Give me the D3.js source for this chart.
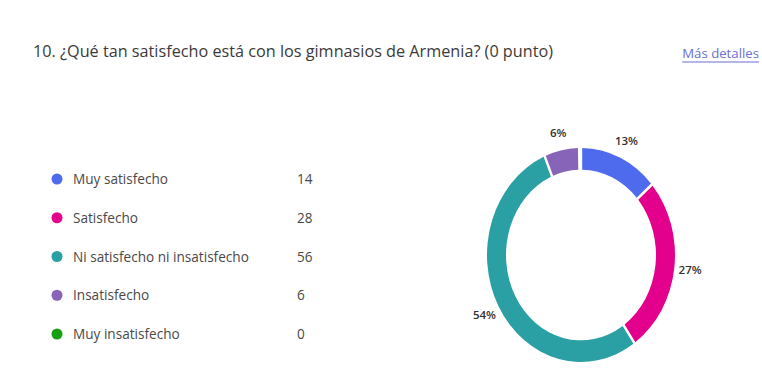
<!DOCTYPE html>
<html>
<head>
<meta charset="utf-8">
<script src="https://cdn.jsdelivr.net/npm/d3@7"></script>
<style>
  html, body { margin: 0; padding: 0; background: #fff; }
  svg { display: block; }
</style>
</head>
<body>
<svg id="chart" width="762" height="387"></svg>
<script>
// Survey question 10: satisfaction with gyms in Armenia
const title = "10. ¿Qué tan satisfecho está con los gimnasios de Armenia? (0 punto)";
const linkText = "Más detalles";
const categories = ["Muy satisfecho", "Satisfecho", "Ni satisfecho ni insatisfecho", "Insatisfecho", "Muy insatisfecho"];
const counts = [14, 28, 56, 6, 0];
const colors = ["#4F6BED", "#E3008C", "#2AA0A4", "#8764B8", "#13A10E"];

const svg = d3.select("#chart");
const font = "'Open Sans', 'Noto Sans', sans-serif";

// Header
svg.append("text")
  .attr("x", 33).attr("y", 57)
  .attr("font-family", font).attr("font-size", 15.5)
  .attr("fill", "#3b3a39")
  .attr("textLength", 520).attr("lengthAdjust", "spacingAndGlyphs")
  .text(title);

const link = svg.append("text")
  .attr("x", 759).attr("y", 58)
  .attr("text-anchor", "end")
  .attr("font-family", font).attr("font-size", 13.2)
  .attr("fill", "#6b6fd6")
  .text(linkText);
const lb = link.node().getBBox();
svg.append("line")
  .attr("x1", lb.x).attr("x2", lb.x + lb.width)
  .attr("y1", 62).attr("y2", 62)
  .attr("stroke", "#6b6fd6").attr("stroke-width", 1);

// Legend
const legendY = d3.scalePoint().domain(categories).range([179, 334]);
const legend = svg.append("g");
const rows = legend.selectAll("g").data(categories).join("g")
  .attr("transform", d => `translate(0,${legendY(d)})`);
rows.append("circle").attr("cx", 57).attr("cy", 0).attr("r", 5.5)
  .attr("fill", (d, i) => colors[i]);
rows.append("text").attr("x", 73).attr("y", 5)
  .attr("font-family", font).attr("font-size", 13.6).attr("fill", "#4a4948")
  .text(d => d);
rows.append("text").attr("x", 297).attr("y", 5)
  .attr("font-family", font).attr("font-size", 13.6).attr("fill", "#4a4948")
  .text((d, i) => counts[i]);

// Donut
const total = d3.sum(counts);
const cx = 581, cy = 255, outer = 94, inner = 75, yStretch = 1.138;
const pie = d3.pie().sort(null).value(d => d).padAngle(0.02);
const arcs = pie(counts);
const arc = d3.arc().innerRadius(inner).outerRadius(outer);
const donut = svg.append("g")
  .attr("transform", `translate(${cx},${cy}) scale(1,${yStretch})`);
donut.selectAll("path").data(arcs.filter(a => a.data > 0)).join("path")
  .attr("d", arc)
  .attr("fill", d => colors[d.index]);

// Percentage labels placed outside the ring
const labelArc = d3.arc().innerRadius(outer + 16).outerRadius(outer + 16);
svg.append("g").selectAll("text").data(arcs.filter(a => a.data > 0)).join("text")
  .attr("x", d => cx + labelArc.centroid(d)[0])
  .attr("y", d => cy + labelArc.centroid(d)[1] * yStretch + 4)
  .attr("text-anchor", "middle")
  .attr("font-family", font).attr("font-size", 11.5).attr("font-weight", 600)
  .attr("fill", "#323130")
  .text(d => Math.round(d.data / total * 100) + "%");
</script>
</body>
</html>
